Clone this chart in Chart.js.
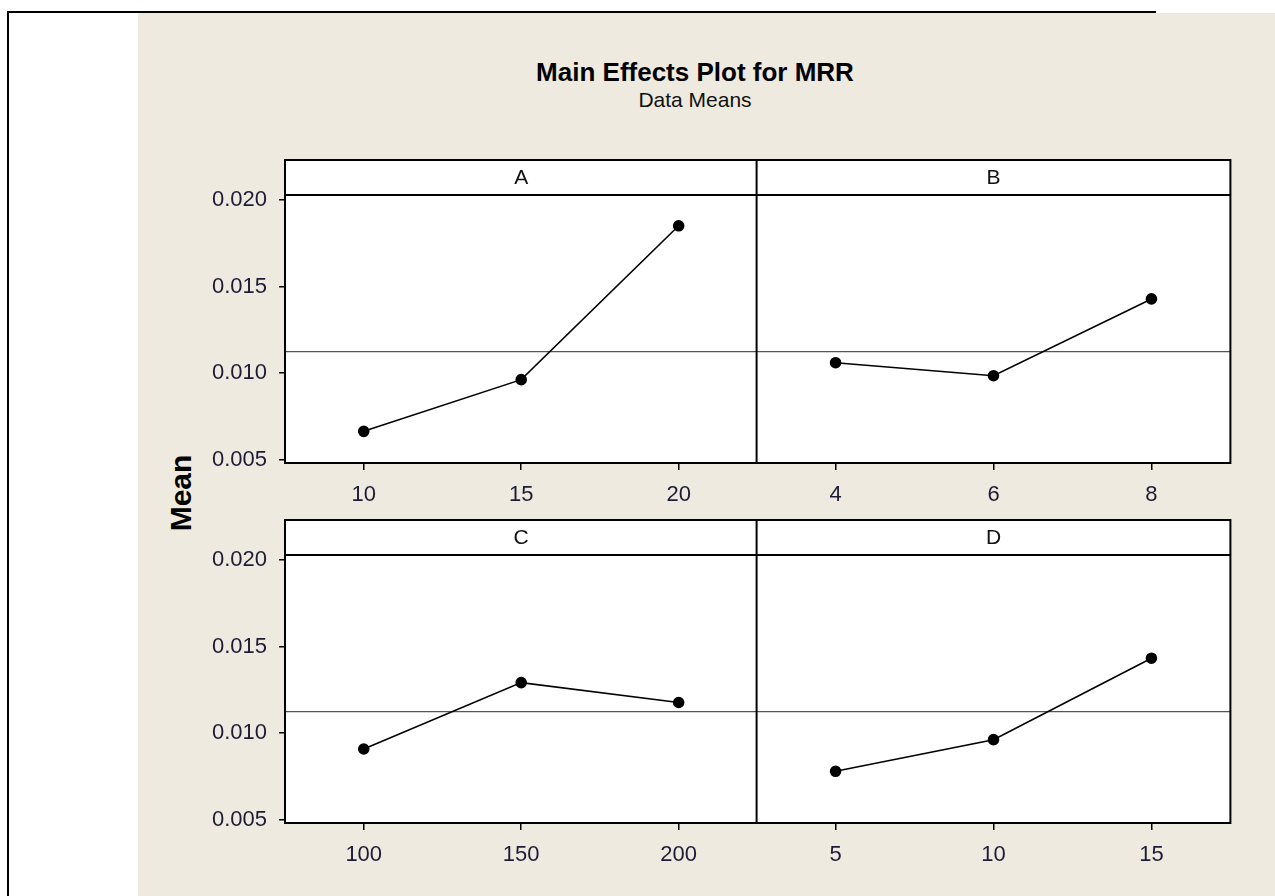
<!DOCTYPE html>
<html>
<head>
<meta charset="utf-8">
<title>Main Effects Plot for MRR</title>
<script src="https://cdn.jsdelivr.net/npm/chart.js@4"></script>
<style>
  body { margin: 0; background: #fff; width: 1275px; height: 896px; position: relative; overflow: hidden;
         font-family: "Liberation Sans", Arial, sans-serif; }
  #bg { position: absolute; left: 138px; top: 13px; right: 0; bottom: 0; background: #eeeae0; }
  #frameTop { position: absolute; left: 7px; top: 11px; width: 1149px; height: 2px; background: #000; }
  #frameLeft { position: absolute; left: 7px; top: 11px; width: 2px; height: 885px; background: #000; }
  #title { position: absolute; left: 445px; width: 500px; top: 57px; line-height: 30px; text-align: center;
           font-weight: bold; font-size: 26px; color: #000; }
  #sub { position: absolute; left: 495px; width: 400px; top: 87px; line-height: 26px; text-align: center;
         font-size: 21px; color: #111; }
  #ylab { position: absolute; left: 131px; top: 478px; width: 100px; line-height: 30px; text-align: center;
          font-weight: bold; font-size: 30px; color: #000; transform: rotate(-90deg); }
  canvas { position: absolute; }
</style>
</head>
<body>
<div id="bg"></div>
<div id="frameTop"></div>
<div id="frameLeft"></div>
<div id="title">Main Effects Plot for MRR</div>
<div id="sub">Data Means</div>
<div id="ylab">Mean</div>

<canvas id="pA" width="626" height="365" style="left:138px;top:150px"></canvas>
<canvas id="pB" width="487" height="365" style="left:750px;top:150px"></canvas>
<canvas id="pC" width="626" height="365" style="left:138px;top:510px"></canvas>
<canvas id="pD" width="487" height="365" style="left:750px;top:510px"></canvas>

<script>
// ---------- data ----------
const yTicks = [0.005, 0.010, 0.015, 0.020];
const grandMean = 0.01124;

const levelsA = ['10', '15', '20'];
const meansA = [0.00663, 0.00962, 0.01852];

const levelsB = ['4', '6', '8'];
const meansB = [0.01060, 0.00985, 0.01429];

const levelsC = ['100', '150', '200'];
const meansC = [0.00908, 0.01292, 0.01177];

const levelsD = ['5', '10', '15'];
const meansD = [0.00779, 0.00962, 0.01433];

const yMin = 0.0048, yMax = 0.0203;

const tickFont = { family: '"Liberation Sans", Arial, sans-serif', size: 22 };
const tickColor = '#1c1c36';
const HEADER = 35;

// ---------- plugin: white panel, header strip, mean line, frame ----------
const panelFrame = {
  id: 'panelFrame',
  beforeDraw(chart) {
    const { ctx, chartArea: a } = chart;
    ctx.save();
    ctx.fillStyle = '#fff';
    ctx.fillRect(a.left, a.top - HEADER, a.right - a.left, a.bottom - a.top + HEADER);
    ctx.restore();
  },
  beforeDatasetsDraw(chart) {
    const { ctx, chartArea: a } = chart;
    const y = chart.scales.y.getPixelForValue(grandMean);
    ctx.save();
    ctx.strokeStyle = '#555';
    ctx.lineWidth = 1.2;
    ctx.beginPath();
    ctx.moveTo(a.left, y);
    ctx.lineTo(a.right, y);
    ctx.stroke();
    ctx.restore();
  },
  afterDraw(chart, args, opts) {
    const { ctx, chartArea: a } = chart;
    ctx.save();
    ctx.strokeStyle = '#000';
    ctx.lineWidth = 2;
    ctx.strokeRect(a.left, a.top - HEADER, a.right - a.left, a.bottom - a.top + HEADER);
    ctx.beginPath();
    ctx.moveTo(a.left, a.top);
    ctx.lineTo(a.right, a.top);
    ctx.stroke();
    ctx.fillStyle = '#111';
    ctx.font = '21px "Liberation Sans", Arial, sans-serif';
    ctx.textAlign = 'center';
    ctx.textBaseline = 'middle';
    ctx.fillText(opts.letter, (a.left + a.right) / 2, a.top - HEADER / 2 + 1);
    ctx.restore();
  }
};

function makePanel(id, letter, labels, values, withAxis) {
  return new Chart(document.getElementById(id), {
    type: 'line',
    data: {
      labels: labels,
      datasets: [{
        data: values,
        borderColor: '#000',
        borderWidth: 1.6,
        pointRadius: 5,
        pointBackgroundColor: '#000',
        pointBorderColor: '#000',
        tension: 0
      }]
    },
    options: {
      responsive: false,
      animation: false,
      events: [],
      layout: { padding: { top: 45, left: withAxis ? 0 : 4, right: 4, bottom: 0 } },
      plugins: {
        legend: { display: false },
        tooltip: { enabled: false },
        panelFrame: { letter: letter }
      },
      scales: {
        x: {
          offset: true,
          grid: { offset: false, drawOnChartArea: false, tickLength: 7, color: '#000', lineWidth: 1.5 },
          border: { display: false },
          ticks: { padding: 12, font: tickFont, color: tickColor, maxRotation: 0 },
          afterFit(s) { s.height = 52; }
        },
        y: {
          display: withAxis,
          min: yMin,
          max: yMax,
          grid: { drawOnChartArea: false, tickLength: 6, color: '#000', lineWidth: 1.5 },
          border: { display: false },
          afterBuildTicks(s) { s.ticks = yTicks.map(v => ({ value: v })); },
          ticks: { padding: 12, font: tickFont, color: tickColor, callback: v => Number(v).toFixed(3) },
          afterFit(s) { s.width = withAxis ? 147 : 0; }
        }
      }
    },
    plugins: [panelFrame]
  });
}

makePanel('pA', 'A', levelsA, meansA, true);
makePanel('pB', 'B', levelsB, meansB, false);
makePanel('pC', 'C', levelsC, meansC, true);
makePanel('pD', 'D', levelsD, meansD, false);
</script>
</body>
</html>
